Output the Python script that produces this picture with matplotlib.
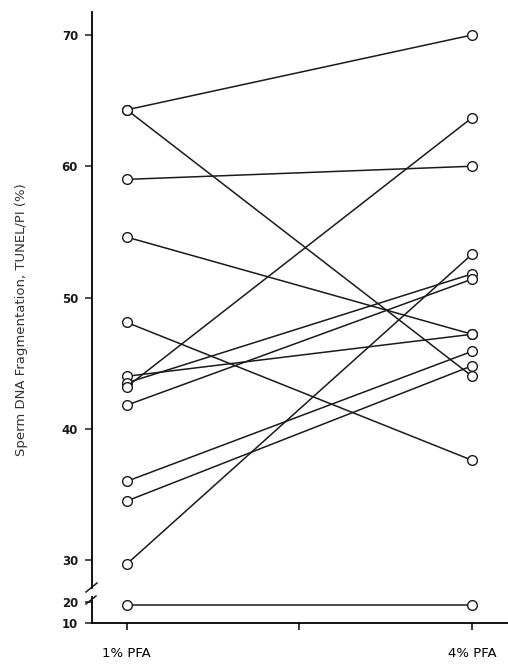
import matplotlib
matplotlib.use("Agg")
import matplotlib.pyplot as plt
from matplotlib.lines import Line2D

# groups on the x axis
groups = ["1% PFA", "4% PFA"]

# paired values per subject (% fragmentation)
pfa1 = [64.3, 64.3, 59.0, 54.6, 48.1, 44.0, 43.5, 43.2, 41.8, 36.0, 34.5, 29.7]
pfa4 = [70.0, 44.0, 60.0, 47.2, 37.6, 47.2, 51.8, 63.7, 51.4, 45.9, 44.8, 53.3]

# the subject drawn below the axis break
low_pfa1 = [18.5]
low_pfa4 = [18.5]

upper_ticks = [30, 40, 50, 60, 70]
lower_ticks = [10, 20]

W, H = 508, 670
fig = plt.figure(figsize=(W / 100, H / 100), dpi=100)
plt.rcParams["font.family"] = ["DejaVu Sans"]

left = 92 / W
ax = fig.add_axes([left, (H - 588) / H, 1 - left, (588 - 12) / H])
ax_lo = fig.add_axes([left, (H - 623) / H, 1 - left, (623 - 597) / H])

xpos = [0, 1]
col = "#1a1a1a"
mk = dict(marker="o", markersize=7.0, markerfacecolor="white",
          markeredgecolor=col, markeredgewidth=1.0, clip_on=False)

for a, b in zip(pfa1, pfa4):
    ax.plot(xpos, [a, b], color=col, lw=1.1, **mk)
for a, b in zip(low_pfa1, low_pfa4):
    ax_lo.plot(xpos, [a, b], color=col, lw=1.1, **mk)

xl = (-0.101, 1.104)
ax.set_xlim(*xl)
ax_lo.set_xlim(*xl)
ax.set_ylim(27.87, 71.75)
ax_lo.set_ylim(10, 22.4)

for a in (ax, ax_lo):
    a.spines["top"].set_visible(False)
    a.spines["right"].set_visible(False)
    a.spines["left"].set_linewidth(1.3)
    a.tick_params(axis="y", direction="out", length=5, width=1.1, pad=5,
                  labelsize=8.5, colors=col)
    a.set_facecolor("none")

ax.spines["bottom"].set_visible(False)
ax.set_xticks([])
ax.set_yticks(upper_ticks)
ax.set_yticklabels([str(t) for t in upper_ticks], fontweight="bold")

ax_lo.spines["bottom"].set_linewidth(1.3)
ax_lo.set_yticks(lower_ticks)
ax_lo.set_yticklabels([str(t) for t in lower_ticks], fontweight="bold")
ax_lo.set_xticks([0, 0.5, 1])
ax_lo.set_xticklabels([groups[0], "", groups[1]], fontsize=9.5)
ax_lo.tick_params(axis="x", direction="out", length=5, width=1.1, pad=12)

# axis break marks
for (x0, y0, x1, y1) in [(86, 592, 97, 583), (86, 604, 96, 596)]:
    fig.add_artist(Line2D([x0 / W, x1 / W], [1 - y0 / H, 1 - y1 / H],
                          color=col, lw=1.1, transform=fig.transFigure))

fig.text(22 / W, 1 - 320 / H, "Sperm DNA Fragmentation, TUNEL/PI (%)",
         rotation=90, ha="center", va="center", fontsize=9.5, color="#333333")

fig.savefig("out.png", dpi=100)
